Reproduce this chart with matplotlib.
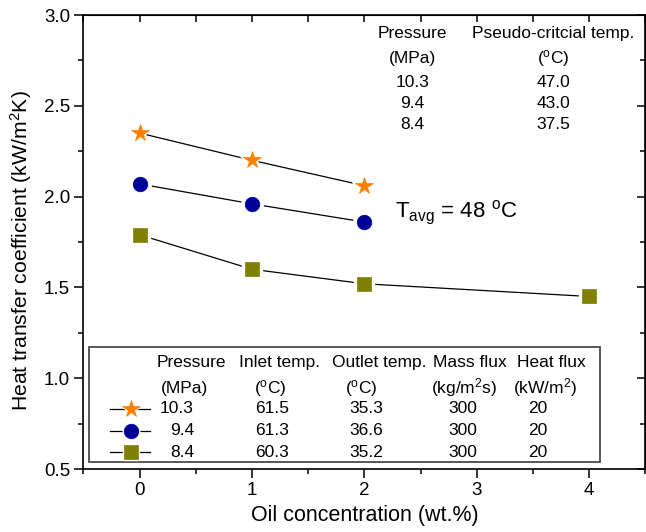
import matplotlib
matplotlib.use("Agg")
import matplotlib.pyplot as plt
from matplotlib.patches import Rectangle
from matplotlib.ticker import MultipleLocator

plt.rcParams['font.family'] = ['Liberation Sans', 'DejaVu Sans']
plt.rcParams['mathtext.fontset'] = 'custom'
plt.rcParams['mathtext.rm'] = 'Liberation Sans'
plt.rcParams['mathtext.it'] = 'Liberation Sans:italic'
plt.rcParams['mathtext.bf'] = 'Liberation Sans:bold'

# heat transfer coefficient vs oil concentration, one series per pressure
oil_a = [0, 1, 2]
htc_103 = [2.35, 2.20, 2.06]
oil_b = [0, 1, 2]
htc_94 = [2.07, 1.96, 1.86]
oil_c = [0, 1, 2, 4]
htc_84 = [1.79, 1.60, 1.52, 1.45]

pressures = ['10.3', '9.4', '8.4']
inlet_t = ['61.5', '61.3', '60.3']
outlet_t = ['35.3', '36.6', '35.2']
mass_flux = ['300', '300', '300']
heat_flux = ['20', '20', '20']
pseudo_t = ['47.0', '43.0', '37.5']

colors = ['#ff7f00', '#000099', '#808000']
markers = ['*', 'o', 's']
msizes = [13, 10.5, 10]

fig = plt.figure(figsize=(6.46, 5.32), dpi=100)
ax = fig.add_axes([0.129, 0.1184, 0.870, 0.8534])

series = [(oil_a, htc_103), (oil_b, htc_94), (oil_c, htc_84)]
for (x, y), c, m, ms in zip(series, colors, markers, msizes):
    ax.plot(x, y, '-', color='black', lw=0.9, zorder=2)
    # white halo leaves a small gap between line and marker
    ax.plot(x, y, ls='none', marker=m, ms=ms + 5, mfc='white', mec='white', zorder=3)
    ax.plot(x, y, ls='none', marker=m, ms=ms, mfc=c, mec=c, mew=0.5, zorder=4)

ax.set_xlim(-0.5, 4.5)
ax.set_ylim(0.5, 3.0)
ax.xaxis.set_major_locator(MultipleLocator(1))
ax.xaxis.set_minor_locator(MultipleLocator(0.5))
ax.yaxis.set_major_locator(MultipleLocator(0.5))
ax.yaxis.set_minor_locator(MultipleLocator(0.25))
ax.yaxis.set_major_formatter(plt.FuncFormatter(lambda v, p: f'{v:.1f}'))
ax.tick_params(which='major', direction='out', length=6.5, width=1.1, labelsize=13.5, pad=3)
ax.tick_params(which='minor', direction='out', length=3.5, width=1.1)
for s in ax.spines.values():
    s.set_linewidth(1.2)

# mirrored ticks on top and right, pointing inward
top = ax.secondary_xaxis('top')
top.xaxis.set_major_locator(MultipleLocator(1))
top.xaxis.set_minor_locator(MultipleLocator(0.5))
top.tick_params(which='both', direction='in', length=5, width=1.1, labeltop=False)
right = ax.secondary_yaxis('right')
right.yaxis.set_major_locator(MultipleLocator(0.5))
right.yaxis.set_minor_locator(MultipleLocator(0.25))
right.tick_params(which='major', direction='in', length=6, width=1.1, labelright=False)
right.tick_params(which='minor', direction='in', length=3.5, width=1.1, labelright=False)

ax.set_xlabel('Oil concentration (wt.%)', fontsize=15.5, labelpad=4)
ax.set_ylabel('Heat transfer coefficient (kW/m$^2$K)', fontsize=15.2)
ax.yaxis.set_label_coords(-0.087, 0.48)

# pseudo-critical temperature table (upper right)
fs = 12.5
tx = [0.586, 0.836]
ty = [0.960, 0.905, 0.852, 0.806, 0.758]
ax.text(tx[0], ty[0], 'Pressure', transform=ax.transAxes, ha='center', va='center', fontsize=fs)
ax.text(tx[1], ty[0], 'Pseudo-critcial temp.', transform=ax.transAxes, ha='center', va='center', fontsize=fs)
ax.text(tx[0], ty[1], '(MPa)', transform=ax.transAxes, ha='center', va='center', fontsize=fs)
ax.text(tx[1], ty[1], '($^{\\rm o}$C)', transform=ax.transAxes, ha='center', va='center', fontsize=fs)
for i, (p, t) in enumerate(zip(pressures, pseudo_t)):
    ax.text(tx[0], ty[2 + i], p, transform=ax.transAxes, ha='center', va='center', fontsize=fs)
    ax.text(tx[1], ty[2 + i], t, transform=ax.transAxes, ha='center', va='center', fontsize=fs)

ax.text(0.554, 0.565, 'T$_{\\rm avg}$ = 48 $^{\\rm o}$C', transform=ax.transAxes,
        ha='left', va='center', fontsize=16)

# legend box with operating conditions
box = Rectangle((0.0101, 0.0150), 0.910, 0.2537, transform=ax.transAxes,
                facecolor='white', edgecolor='#4a4a4a', lw=1.3, zorder=5)
ax.add_patch(box)

head_x = [0.1914, 0.3496, 0.5264, 0.6872, 0.8330]
unit_x = [0.180, 0.3317, 0.4944, 0.6783, 0.8214]
val_x = [0.1967, 0.3354, 0.5042, 0.6748, 0.8090]
row_y = [0.2357, 0.1784, 0.1322, 0.0845, 0.0370]
headers = ['Pressure', 'Inlet temp.', 'Outlet temp.', 'Mass flux', 'Heat flux']
units = ['(MPa)', '($^{\\rm o}$C)', '($^{\\rm o}$C)', '(kg/m$^2$s)', '(kW/m$^2$)']
for hx, ux, h, u in zip(head_x, unit_x, headers, units):
    ax.text(hx, row_y[0], h, transform=ax.transAxes, ha='center', va='center', fontsize=fs, zorder=6)
    ax.text(ux, row_y[1], u, transform=ax.transAxes, ha='center', va='center', fontsize=fs, zorder=6)

columns = [inlet_t, outlet_t, mass_flux, heat_flux]
for i in range(3):
    yy = row_y[2 + i]
    ax.plot([0.0480, 0.1194], [yy, yy], color='black', lw=0.9, transform=ax.transAxes, zorder=6)
    ax.plot([0.0842], [yy], marker=markers[i], ms=msizes[i] + 1.5, mfc='white', mec='white',
            transform=ax.transAxes, zorder=6)
    ax.plot([0.0842], [yy], marker=markers[i], ms=msizes[i], mfc=colors[i], mec=colors[i],
            mew=0.5, transform=ax.transAxes, zorder=7)
    ax.text(val_x[0], yy, pressures[i], transform=ax.transAxes, ha='right', va='center',
            fontsize=fs, zorder=6)
    for vx, col in zip(val_x[1:], columns):
        ax.text(vx, yy, col[i], transform=ax.transAxes, ha='center', va='center',
                fontsize=fs, zorder=6)

fig.savefig('out.png', dpi=100)
